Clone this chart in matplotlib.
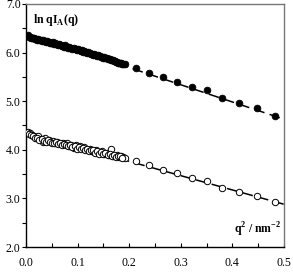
import numpy as np
import matplotlib
matplotlib.use("Agg")
import matplotlib.pyplot as plt

plt.rcParams['font.family'] = ['Liberation Serif', 'DejaVu Serif']
plt.rcParams['mathtext.fontset'] = 'custom'
plt.rcParams['mathtext.rm'] = 'Liberation Serif'
plt.rcParams['mathtext.bf'] = 'Liberation Serif:bold'

# dense low-q data (shared q^2 grid)
q2_dense = [0.004, 0.008, 0.012, 0.016, 0.020, 0.024, 0.028, 0.032, 0.036, 0.040,
            0.044, 0.048, 0.052, 0.056, 0.060, 0.064, 0.068, 0.072, 0.076, 0.080,
            0.084, 0.088, 0.092, 0.096, 0.100, 0.104, 0.108, 0.112, 0.116, 0.120,
            0.124, 0.128, 0.132, 0.136, 0.140, 0.144, 0.148, 0.152, 0.156, 0.160,
            0.164, 0.168, 0.172, 0.176, 0.180, 0.184, 0.188, 0.192]
filled_dense = [6.36, 6.33, 6.31, 6.30, 6.28, 6.27, 6.25, 6.26, 6.24, 6.23,
                6.22, 6.20, 6.21, 6.19, 6.17, 6.18, 6.15, 6.14, 6.15, 6.12,
                6.11, 6.10, 6.10, 6.08, 6.07, 6.05, 6.06, 6.03, 6.02, 6.01,
                5.99, 5.98, 5.97, 5.95, 5.94, 5.93, 5.91, 5.90, 5.88, 5.87,
                5.85, 5.84, 5.82, 5.81, 5.79, 5.78, 5.76, 5.77]
open_dense = [4.37, 4.34, 4.31, 4.29, 4.26, 4.28, 4.22, 4.17, 4.24, 4.18,
              4.21, 4.16, 4.19, 4.13, 4.17, 4.14, 4.11, 4.15, 4.12, 4.13,
              4.08, 4.10, 4.04, 4.09, 4.06, 4.08, 4.03, 4.05, 4.01, 3.99,
              4.02, 3.97, 3.95, 4.00, 3.96, 3.93, 3.97, 3.91, 3.94, 3.90,
              4.01, 3.88, 3.87, 3.90, 3.85, 3.88, 3.86, 3.84]

# interleaved low-q points
q2_mid = [0.006, 0.010, 0.014, 0.018, 0.022, 0.026, 0.030, 0.034, 0.038, 0.042,
          0.046, 0.050, 0.054, 0.058, 0.062, 0.066, 0.070, 0.074, 0.078, 0.082,
          0.086, 0.090, 0.094, 0.098, 0.102, 0.106, 0.110, 0.114, 0.118, 0.122,
          0.126, 0.130, 0.134, 0.138, 0.142, 0.146, 0.150, 0.154, 0.158, 0.162,
          0.166, 0.170, 0.174, 0.178, 0.182, 0.186]
filled_mid = [6.33, 6.30, 6.29, 6.28, 6.25, 6.25, 6.23, 6.23, 6.21, 6.22,
              6.19, 6.19, 6.17, 6.18, 6.15, 6.15, 6.13, 6.12, 6.12, 6.10,
              6.10, 6.07, 6.07, 6.05, 6.05, 6.04, 6.02, 6.02, 5.99, 5.99,
              5.97, 5.96, 5.95, 5.93, 5.93, 5.91, 5.89, 5.89, 5.86, 5.86,
              5.84, 5.82, 5.81, 5.79, 5.78, 5.76]
open_mid = [4.33, 4.30, 4.28, 4.25, 4.24, 4.20, 4.23, 4.19, 4.16, 4.20,
            4.17, 4.14, 4.15, 4.16, 4.12, 4.13, 4.09, 4.12, 4.10, 4.07,
            4.09, 4.05, 4.07, 4.02, 4.05, 4.01, 4.04, 4.00, 4.02, 3.97,
            3.99, 4.00, 3.94, 3.97, 3.92, 3.95, 3.92, 3.93, 3.89, 3.91,
            3.88, 3.90, 3.85, 3.87, 3.88, 3.84]

# sparse high-q data
q2_sparse = [0.214, 0.239, 0.265, 0.292, 0.321, 0.350, 0.380, 0.413, 0.447, 0.483]
filled_sparse = [5.68, 5.59, 5.50, 5.40, 5.29, 5.22, 5.07, 4.96, 4.85, 4.70]
open_sparse = [3.76, 3.69, 3.58, 3.53, 3.43, 3.36, 3.22, 3.14, 3.05, 2.92]

# linear fits
fit_q2 = [0.0, 0.5]
fit_filled = [6.40, 4.63]
fit_open = [4.35, 2.88]

q2_all = q2_dense + q2_mid + q2_sparse

fig = plt.figure(figsize=(2.93, 2.74), dpi=100)
ax = fig.add_axes([0.089, 0.0985, 0.880, 0.887])

for fy in (fit_filled, fit_open):
    ax.plot(fit_q2, fy, color='black', lw=1.1, dashes=(7, 3.5), zorder=1)

ax.plot(q2_all, filled_dense + filled_mid + filled_sparse, 'o', ms=4.8,
        mfc='black', mec='black', mew=0.6, zorder=3)
ax.plot(q2_all, open_dense + open_mid + open_sparse, 'o', ms=4.6,
        mfc='white', mec='black', mew=0.7, zorder=3)

ax.set_xlim(0, 0.5)
ax.set_ylim(2.0, 7.0)
ax.set_xticks([0.0, 0.1, 0.2, 0.3, 0.4, 0.5])
ax.set_xticks([0.05, 0.15, 0.25, 0.35, 0.45], minor=True)
ax.set_yticks([2.0, 3.0, 4.0, 5.0, 6.0, 7.0])
ax.set_yticks([2.5, 3.5, 4.5, 5.5, 6.5], minor=True)
ax.xaxis.set_major_formatter(plt.FormatStrFormatter('%.1f'))
ax.yaxis.set_major_formatter(plt.FormatStrFormatter('%.1f'))
ax.tick_params(axis='x', direction='in', length=3, width=0.8, labelsize=8.5, pad=7)
ax.tick_params(axis='x', which='minor', direction='in', length=3, width=0.8)
ax.tick_params(axis='y', direction='out', length=3, width=0.8, labelsize=8.5, pad=1)
ax.tick_params(axis='y', which='minor', direction='out', length=3, width=0.8)

ax.spines['left'].set_linewidth(1.0)
ax.spines['bottom'].set_linewidth(1.0)
for s in ('top', 'right'):
    ax.spines[s].set_color('#777777')
    ax.spines[s].set_linewidth(1.0)

ax.text(0.025, 0.965, r'ln qI$_\mathbf{A}$(q)', transform=ax.transAxes,
        fontsize=8.5, fontweight='bold', ha='left', va='top')
ax.text(0.99, 0.035, r'q$^\mathbf{2}$ / nm$^\mathbf{-2}$', transform=ax.transAxes,
        fontsize=8.5, fontweight='bold', ha='right', va='bottom')

fig.savefig('out.png', dpi=100)
